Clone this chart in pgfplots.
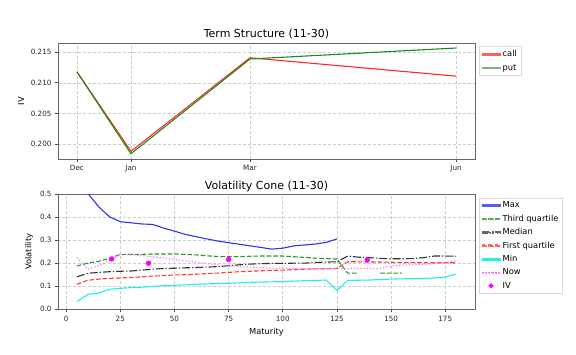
\documentclass[border=0pt]{standalone}
\usepackage{fontspec}
\setmainfont{DejaVu Sans}
\usepackage{pgfplots}
\pgfplotsset{compat=1.18}
\definecolor{cgreen}{RGB}{26,140,26}
\definecolor{cred}{RGB}{255,40,40}
\definecolor{cblue}{RGB}{50,50,245}
\definecolor{ccyan}{RGB}{30,240,240}
\definecolor{cmag}{RGB}{255,110,255}
\definecolor{cblack}{RGB}{50,50,50}
\definecolor{cred2}{RGB}{255,60,60}
\definecolor{cgreen2}{RGB}{40,150,40}
\definecolor{civ}{RGB}{255,0,255}
\pgfplotsset{mystyle/.style={
  scale only axis, width=417bp,
  axis line style={draw=black!60, line width=0.8bp},
  tick align=outside, tick pos=left, major tick length=3bp,
  tick style={black!70, line width=0.7bp},
  grid=major, grid style={dash pattern=on 3bp off 2bp, line width=0.5bp, gray!40},
  tick label style={font=\fontsize{7.2bp}{8bp}\selectfont, text=black!85},
  label style={font=\fontsize{8.3bp}{10bp}\selectfont},
  every axis title shift=0pt,
  title style={font=\fontsize{11bp}{13bp}\selectfont, at={(0.5,1)}, anchor=base, yshift=5bp},
  /pgf/number format/assume math mode=true,
  legend cell align=left,
  legend style={at={(1,1)}, anchor=north west, xshift=4.3bp, yshift=-3.5bp,
    draw=gray!30, font=\fontsize{8.3bp}{10bp}\selectfont, row sep=1.7bp, inner sep=2bp},
  every axis plot/.append style={line width=1.1bp},
}}
\begin{document}
\begin{tikzpicture}
\path[use as bounding box] (0,0) rectangle (576bp,355bp);
\begin{axis}[mystyle, at={(58bp,196bp)}, anchor=south west, height=116bp,
  title={Term Structure (11-30)}, ylabel={IV},
  xmin=-18.95, xmax=397.95, ymin=0.19754, ymax=0.21652,
  xtick={0,54,173,379}, xticklabels={Dec,Jan,Mar,Jun},
  ytick={0.200,0.205,0.210,0.215},
  yticklabel style={/pgf/number format/.cd, fixed, fixed zerofill, precision=3},
  scaled y ticks=false]
\addplot[color=cred, legend image code/.code={\fill[cred!75!white] (0bp,-0.75bp) rectangle (18bp,0.75bp);}] coordinates {(0,0.2118) (54,0.1988) (173,0.2141) (379,0.2111)};
\addlegendentry{call}
\addplot[color=cgreen, legend image code/.code={\fill[cgreen!60!white] (0bp,-0.75bp) rectangle (18bp,0.75bp);}] coordinates {(0,0.2118) (54,0.1984) (173,0.2139) (379,0.2157)};
\addlegendentry{put}
\end{axis}
\begin{axis}[mystyle, at={(58bp,45.7bp)}, anchor=south west, height=115.3bp,
  title={Volatility Cone (11-30)}, ylabel={Volatility}, xlabel={Maturity},
  xmin=-3.75, xmax=188.75, ymin=0, ymax=0.5,
  xtick={0,25,...,175}, ytick={0,0.1,...,0.5},
  yticklabel style={/pgf/number format/.cd, fixed, fixed zerofill, precision=1},
  unbounded coords=jump]
\addplot[color=cblue, legend image code/.code={\fill[cblue!80!white] (0bp,-0.75bp) rectangle (18bp,0.75bp);}] coordinates {(5,0.9) (10,0.503) (15,0.445) (20,0.401) (25,0.38) (30,0.375) (35,0.37) (40,0.368) (45,0.352) (50,0.339) (55,0.325) (60,0.315) (65,0.305) (70,0.296) (75,0.289) (80,0.282) (85,0.275) (90,0.268) (95,0.261) (100,0.265) (105,0.275) (110,0.279) (115,0.283) (120,0.29) (125,0.305)};
\addlegendentry{Max}
\addplot[color=cgreen2, dash pattern=on 4.6bp off 2bp, legend image code/.code={\fill[cgreen2!80!white] (0bp,-0.75bp) rectangle (4.6bp,0.75bp) (6.6bp,-0.75bp) rectangle (11.2bp,0.75bp) (13.2bp,-0.75bp) rectangle (17.8bp,0.75bp);}] coordinates {(5,0.188) (10,0.2) (15,0.208) (20,0.221) (25,0.238) (30,0.238) (35,0.238) (40,0.24) (45,0.24) (50,0.24) (55,0.238) (60,0.236) (65,0.232) (70,0.229) (75,0.228) (80,0.229) (85,0.23) (90,0.231) (95,0.231) (100,0.231) (105,0.228) (110,0.225) (115,0.222) (120,0.22) (125,0.218) (130,0.157) (135,0.157) (140,nan) (145,0.157) (150,0.157) (155,0.157)};
\addlegendentry{Third quartile}
\addplot[color=cblack, dash pattern=on 8bp off 2bp on 1.25bp off 2bp, legend image code/.code={\fill[cblack!75!white] (0bp,-0.75bp) rectangle (8bp,0.75bp) (10bp,-0.75bp) rectangle (11.25bp,0.75bp) (13.25bp,-0.75bp) rectangle (18bp,0.75bp);}] coordinates {(5,0.141) (10,0.156) (15,0.16) (20,0.163) (25,0.165) (30,0.166) (35,0.17) (40,0.174) (45,0.177) (50,0.178) (55,0.18) (60,0.181) (65,0.183) (70,0.185) (75,0.189) (80,0.193) (85,0.196) (90,0.198) (95,0.199) (100,0.199) (105,0.2) (110,0.2) (115,0.203) (120,0.205) (125,0.206) (130,0.231) (135,0.226) (140,0.224) (145,0.221) (150,0.219) (155,0.219) (160,0.22) (165,0.224) (170,0.231) (175,0.231) (180,0.23)};
\addlegendentry{Median}
\addplot[color=cred2, dash pattern=on 4.6bp off 2bp, legend image code/.code={\fill[cred2!80!white] (0bp,-0.75bp) rectangle (4.6bp,0.75bp) (6.6bp,-0.75bp) rectangle (11.2bp,0.75bp) (13.2bp,-0.75bp) rectangle (17.8bp,0.75bp);}] coordinates {(5,0.108) (10,0.126) (15,0.131) (20,0.134) (25,0.136) (30,0.138) (35,0.141) (40,0.144) (45,0.146) (50,0.149) (55,0.15) (60,0.152) (65,0.155) (70,0.157) (75,0.16) (80,0.163) (85,0.165) (90,0.167) (95,0.169) (100,0.17) (105,0.172) (110,0.174) (115,0.175) (120,0.176) (125,0.177) (130,0.206) (135,0.206) (140,0.205) (145,0.205) (150,0.204) (155,0.203) (160,0.203) (165,0.202) (170,0.202) (175,0.202) (180,0.202)};
\addlegendentry{First quartile}
\addplot[color=ccyan, legend image code/.code={\fill[ccyan] (0bp,-0.75bp) rectangle (18bp,0.75bp);}] coordinates {(5,0.033) (10,0.065) (15,0.07) (20,0.087) (25,0.091) (30,0.094) (35,0.096) (40,0.099) (45,0.102) (50,0.104) (55,0.106) (60,0.108) (65,0.11) (70,0.112) (75,0.113) (80,0.115) (85,0.117) (90,0.118) (95,0.119) (100,0.12) (105,0.122) (110,0.124) (115,0.125) (120,0.127) (125,0.082) (130,0.125) (135,0.126) (140,0.127) (145,0.129) (150,0.131) (155,0.132) (160,0.133) (165,0.134) (170,0.136) (175,0.14) (180,0.152)};
\addlegendentry{Min}
\addplot[color=cmag, dash pattern=on 1.25bp off 2bp, legend image code/.code={\fill[cmag] (0bp,-0.75bp) rectangle (1.25bp,0.75bp) (3.25bp,-0.75bp) rectangle (4.5bp,0.75bp) (6.5bp,-0.75bp) rectangle (7.75bp,0.75bp) (9.75bp,-0.75bp) rectangle (11bp,0.75bp) (13bp,-0.75bp) rectangle (14.25bp,0.75bp) (16.25bp,-0.75bp) rectangle (17.5bp,0.75bp);}] coordinates {(5,0.224) (10,0.173) (15,0.19) (20,0.212) (25,0.236) (30,0.236) (35,0.233) (40,0.228) (45,0.222) (50,0.216) (55,0.21) (60,0.204) (65,0.198) (70,0.193) (75,0.189) (80,0.186) (85,0.183) (90,0.181) (95,0.179) (100,0.178) (105,0.177) (110,0.176) (115,0.176) (120,0.176) (125,0.176) (130,0.177) (135,0.177) (140,0.177) (145,0.178) (150,0.187) (155,0.192) (160,0.193) (165,0.195) (170,0.198) (175,0.203) (180,0.209)};
\addlegendentry{Now}
\addplot[only marks, mark=*, mark size=2.1bp, color=civ, mark options={draw=civ, fill=civ}, legend image code/.code={\fill[civ] (9bp,0bp) circle (1.9bp);}] coordinates {(21,0.218) (38,0.2) (75,0.216) (139,0.214)};
\addlegendentry{IV}
\end{axis}
\end{tikzpicture}
\end{document}
